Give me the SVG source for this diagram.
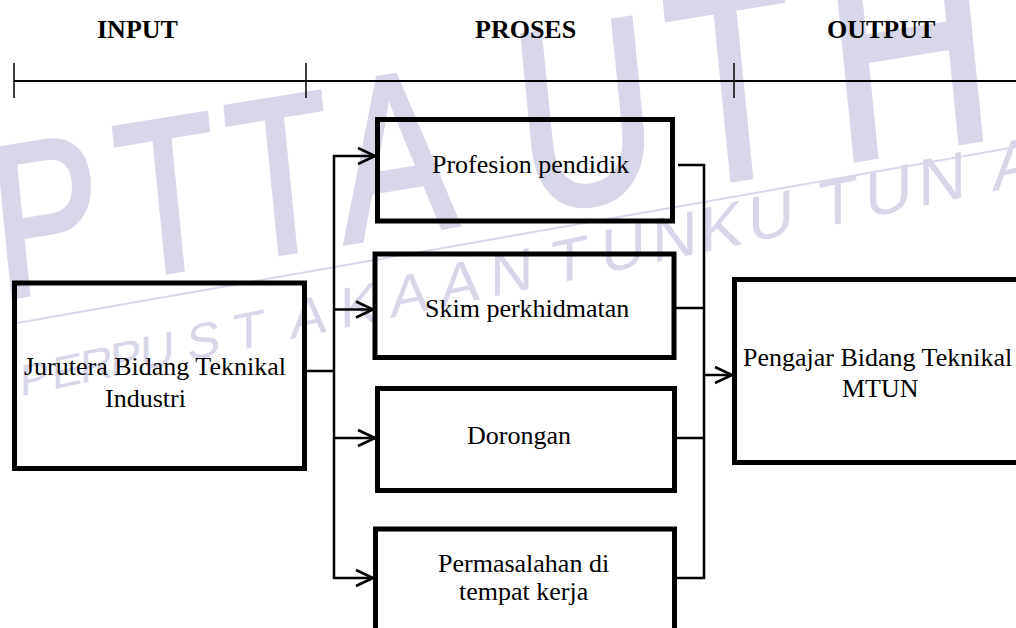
<svg xmlns="http://www.w3.org/2000/svg" width="1016" height="628" viewBox="0 0 1016 628">
<style>
  .wm { fill: #d8d7e9; font-family: "Liberation Sans", Arial, sans-serif; }
  .wmbig { fill: #d8d7e9; stroke: #d8d7e9; stroke-width: 5; font-family: "Liberation Sans", Arial, sans-serif; }
  .hdr { font-family: "Liberation Serif", "Times New Roman", serif; font-weight: bold; font-size: 26px; fill: #000; }
  .lbl { font-family: "Liberation Serif", "Times New Roman", serif; font-size: 26px; fill: #000; }
  .box { fill: none; stroke: #000; stroke-width: 5; }
  .axis { stroke: #000; fill: none; }
  .conn { stroke: #000; stroke-width: 2.5; fill: none; }
</style>
<defs>
  <marker id="arr" viewBox="0 0 20 20" refX="18" refY="10" markerWidth="20" markerHeight="20" markerUnits="userSpaceOnUse" orient="auto">
    <path d="M1,2 L18,10 L1,18" fill="none" stroke="#000" stroke-width="2.5"/>
  </marker>
</defs>
<rect width="1016" height="628" fill="#fff"/>

<g id="watermark">
  <text class="wmbig" transform="matrix(0.75,-0.122,0.1,1,-29.9,0)" y="299"><tspan x="0" font-size="215">P</tspan><tspan x="167" font-size="218">T</tspan><tspan x="316" font-size="222">T</tspan><tspan x="460" font-size="228">A</tspan><tspan x="700" font-size="255">U</tspan><tspan x="905" font-size="275">T</tspan><tspan x="1116" font-size="300">H</tspan></text>
  <line x1="17" y1="323" x2="1016" y2="147" stroke="#d8d7e9" stroke-width="2"/>
  <text class="wm" transform="skewY(-11.9)" y="400.5"><tspan x="20" font-size="44">P</tspan><tspan x="52" font-size="45">E</tspan><tspan x="80" font-size="46">R</tspan><tspan x="110" font-size="47">P</tspan><tspan x="140" font-size="48">U</tspan><tspan x="187" font-size="50">S</tspan><tspan x="233" font-size="52">T</tspan><tspan x="290" font-size="55">A</tspan><tspan x="340" font-size="57">K</tspan><tspan x="390" font-size="58">A</tspan><tspan x="440" font-size="60">A</tspan><tspan x="490" font-size="60">N</tspan><tspan x="551" font-size="61">T</tspan><tspan x="601" font-size="62">U</tspan><tspan x="652" font-size="63">N</tspan><tspan x="700" font-size="64">K</tspan><tspan x="748" font-size="64">U</tspan><tspan x="818" font-size="65">T</tspan><tspan x="865" font-size="66">U</tspan><tspan x="918" font-size="67">N</tspan><tspan x="992" font-size="68">A</tspan></text>
</g>

<g id="timeline">
  <text class="hdr" x="97" y="38">INPUT</text>
  <text class="hdr" x="475" y="38">PROSES</text>
  <text class="hdr" x="827" y="38">OUTPUT</text>
  <line class="axis" x1="14" y1="81" x2="1016" y2="81" stroke-width="2"/>
  <line class="axis" x1="14" y1="63" x2="14" y2="98" stroke-width="1.5"/>
  <line class="axis" x1="306" y1="63" x2="306" y2="98" stroke-width="1.5"/>
  <line class="axis" x1="734" y1="63" x2="734" y2="98" stroke-width="1.5"/>
</g>

<g id="connectors">
  <line class="conn" x1="307" y1="371" x2="334" y2="371"/>
  <line class="conn" x1="334" y1="155" x2="334" y2="579"/>
  <line class="conn" x1="333" y1="156" x2="375" y2="156" marker-end="url(#arr)"/>
  <line class="conn" x1="334" y1="309.5" x2="373" y2="309.5" marker-end="url(#arr)"/>
  <line class="conn" x1="334" y1="438" x2="375" y2="438" marker-end="url(#arr)"/>
  <line class="conn" x1="333" y1="578" x2="373" y2="578" marker-end="url(#arr)"/>
  <line class="conn" x1="678" y1="165" x2="705" y2="165"/>
  <line class="conn" x1="676" y1="308" x2="704" y2="308"/>
  <line class="conn" x1="677" y1="438" x2="704" y2="438"/>
  <line class="conn" x1="677" y1="578" x2="705" y2="578"/>
  <line class="conn" x1="704" y1="164" x2="704" y2="579"/>
  <line class="conn" x1="704" y1="375" x2="732" y2="375" marker-end="url(#arr)"/>
</g>

<g id="node-input">
  <rect class="box" x="14.5" y="283" width="290" height="185.5"/>
  <text class="lbl" x="24" y="375">Jurutera Bidang Teknikal</text>
  <text class="lbl" x="105" y="407">Industri</text>
</g>
<g id="node-profesion">
  <rect class="box" x="377.5" y="119.5" width="295" height="101.5"/>
  <text class="lbl" x="432" y="173">Profesion pendidik</text>
</g>
<g id="node-skim">
  <rect class="box" x="375" y="254" width="299" height="103.5"/>
  <text class="lbl" x="425" y="317">Skim perkhidmatan</text>
</g>
<g id="node-dorongan">
  <rect class="box" x="377.5" y="388.5" width="297" height="102"/>
  <text class="lbl" x="467" y="444">Dorongan</text>
</g>
<g id="node-permasalahan">
  <rect class="box" x="375.5" y="529" width="299" height="120"/>
  <text class="lbl" x="438" y="572">Permasalahan di</text>
  <text class="lbl" x="459" y="600">tempat kerja</text>
</g>
<g id="node-output">
  <rect class="box" x="734.5" y="279.5" width="300" height="183"/>
  <text class="lbl" x="743" y="366">Pengajar Bidang Teknikal</text>
  <text class="lbl" x="842" y="397">MTUN</text>
</g>
</svg>
